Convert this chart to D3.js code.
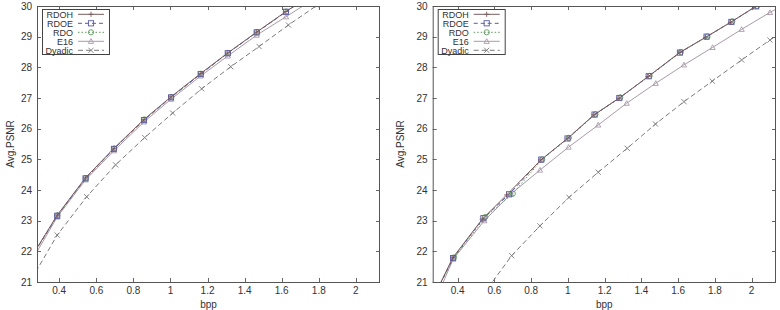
<!DOCTYPE html>
<html>
<head>
<meta charset="utf-8">
<script src="https://cdn.jsdelivr.net/npm/d3@7"></script>
<style>
  html, body { margin: 0; padding: 0; background: #fff; }
  svg { display: block; font-family: "Liberation Sans", Arial, sans-serif; }
</style>
</head>
<body>
<div id="chart"></div>
<script>
// series names and tick values
var seriesNames = ["RDOH", "RDOE", "RDO", "E16", "Dyadic"];
var xTicks = [0.4, 0.6, 0.8, 1, 1.2, 1.4, 1.6, 1.8, 2];
var yTicks = [21, 22, 23, 24, 25, 26, 27, 28, 29, 30];

// left panel, [bpp, psnr]
var leftRDOH = [[0.23,21.62],[0.389,23.18],[0.542,24.40],[0.695,25.36],[0.857,26.30],[1.003,27.04],[1.163,27.80],[1.309,28.47],[1.465,29.15],[1.623,29.82],[1.78,30.45]];
var leftRDOE = [[0.23,21.60],[0.389,23.16],[0.542,24.38],[0.695,25.34],[0.857,26.28],[1.003,27.02],[1.163,27.78],[1.309,28.46],[1.465,29.14],[1.623,29.81],[1.78,30.44]];
var leftRDO = [[0.23,21.61],[0.390,23.17],[0.543,24.39],[0.697,25.35],[0.858,26.30],[1.004,27.03],[1.164,27.79],[1.31,28.47],[1.466,29.15],[1.624,29.82],[1.78,30.44]];
var leftE16 = [[0.23,21.47],[0.389,23.12],[0.542,24.33],[0.695,25.28],[0.857,26.22],[1.003,26.96],[1.163,27.72],[1.309,28.37],[1.465,29.05],[1.623,29.65],[1.78,30.25]];
var leftDyadic = [[0.23,20.88],[0.389,22.53],[0.548,23.78],[0.704,24.82],[0.861,25.71],[1.012,26.51],[1.168,27.30],[1.325,28.02],[1.478,28.68],[1.636,29.38],[1.79,30.02],[1.95,30.6]];

// right panel
var rightRDOH = [[0.22,19.9],[0.373,21.79],[0.534,23.05],[0.667,23.84],[0.853,24.98],[1.0,25.69],[1.142,26.45],[1.278,26.99],[1.437,27.70],[1.61,28.49],[1.75,28.98],[1.886,29.47],[2.02,29.98],[2.16,30.45]];
var rightRDOE = [[0.22,19.9],[0.375,21.78],[0.54,23.08],[0.68,23.86],[0.855,24.99],[0.998,25.68],[1.145,26.46],[1.28,27.0],[1.44,27.71],[1.61,28.48],[1.755,29.0],[1.89,29.48],[2.025,29.99],[2.16,30.45]];
var rightRDO = [[0.22,19.95],[0.38,21.80],[0.55,23.12],[0.70,23.88],[0.86,25.0],[1.005,25.70],[1.15,26.47],[1.285,27.02],[1.445,27.72],[1.615,28.50],[1.76,29.01],[1.895,29.5],[2.03,30.0],[2.17,30.46]];
var rightE16 = [[0.22,19.6],[0.376,21.75],[0.545,23.0],[0.69,23.87],[0.848,24.65],[1.004,25.40],[1.165,26.12],[1.32,26.83],[1.478,27.48],[1.632,28.08],[1.788,28.65],[1.946,29.24],[2.10,29.79],[2.26,30.3]];
var rightDyadic = [[0.54,20.6],[0.694,21.86],[0.848,22.83],[1.006,23.76],[1.165,24.58],[1.323,25.36],[1.477,26.15],[1.632,26.88],[1.786,27.55],[1.946,28.24],[2.10,28.89],[2.26,29.5]];

var styles = {
  RDOH:   { color: "#7a5a5e", dash: null,  marker: "plus" },
  RDOE:   { color: "#5a5aa8", dash: "4,3", marker: "square" },
  RDO:    { color: "#5e9a5e", dash: "1.5,2", marker: "circle" },
  E16:    { color: "#a89aa8", dash: null,  marker: "triangle" },
  Dyadic: { color: "#7a7a7a", dash: "5,3", marker: "cross" }
};

var svg = d3.select("#chart").append("svg").attr("width", 780).attr("height", 310);

var panels = [
  { left: 37, right: 380, xDomain: [0.28, 2.13], data: [leftRDOH, leftRDOE, leftRDO, leftE16, leftDyadic], ylabX: 10, legX: 42 },
  { left: 432.7, right: 776, xDomain: [0.264, 2.133], data: [rightRDOH, rightRDOE, rightRDO, rightE16, rightDyadic], ylabX: 400, legX: 437.7 }
];
var plotTop = 6, plotBottom = 282;

function drawMarker(g, type, x, y, color) {
  var s = 2.6;
  if (type === "plus") {
    g.append("path").attr("d", "M" + (x - s) + "," + y + "H" + (x + s) + "M" + x + "," + (y - s) + "V" + (y + s))
      .attr("stroke", color).attr("fill", "none");
  } else if (type === "square") {
    g.append("rect").attr("x", x - s).attr("y", y - s).attr("width", 2 * s).attr("height", 2 * s)
      .attr("stroke", color).attr("fill", "none");
  } else if (type === "circle") {
    g.append("circle").attr("cx", x).attr("cy", y).attr("r", s).attr("stroke", color).attr("fill", "none");
  } else if (type === "triangle") {
    g.append("path").attr("d", "M" + x + "," + (y - s) + "L" + (x + s) + "," + (y + s * 0.8) + "L" + (x - s) + "," + (y + s * 0.8) + "Z")
      .attr("stroke", color).attr("fill", "none");
  } else {
    g.append("path").attr("d", "M" + (x - s) + "," + (y - s) + "L" + (x + s) + "," + (y + s) + "M" + (x - s) + "," + (y + s) + "L" + (x + s) + "," + (y - s))
      .attr("stroke", color).attr("fill", "none");
  }
}

panels.forEach(function (p, pi) {
  var x = d3.scaleLinear().domain(p.xDomain).range([p.left, p.right]);
  var y = d3.scaleLinear().domain([21, 30]).range([plotBottom, plotTop]);
  var g = svg.append("g");

  var clipId = "clip" + pi;
  svg.append("clipPath").attr("id", clipId).append("rect")
    .attr("x", p.left).attr("y", plotTop).attr("width", p.right - p.left).attr("height", plotBottom - plotTop);

  // ticks (inward, mirrored)
  var tk = g.append("g").attr("stroke", "#666").attr("stroke-width", 1);
  xTicks.forEach(function (t) {
    var xx = Math.round(x(t)) + 0.5;
    tk.append("line").attr("x1", xx).attr("x2", xx).attr("y1", plotBottom).attr("y2", plotBottom - 4);
    tk.append("line").attr("x1", xx).attr("x2", xx).attr("y1", plotTop).attr("y2", plotTop + 4);
  });
  yTicks.forEach(function (t) {
    var yy = Math.round(y(t)) + 0.5;
    tk.append("line").attr("x1", p.left).attr("x2", p.left + 4).attr("y1", yy).attr("y2", yy);
    tk.append("line").attr("x1", p.right).attr("x2", p.right - 4).attr("y1", yy).attr("y2", yy);
  });

  var lab = g.append("g").attr("font-size", 10).attr("fill", "#333");
  xTicks.forEach(function (t) {
    lab.append("text").attr("x", x(t)).attr("y", 294).attr("text-anchor", "middle").text(t);
  });
  yTicks.forEach(function (t) {
    lab.append("text").attr("x", p.left - 5).attr("y", y(t) + 3.5).attr("text-anchor", "end").text(t);
  });
  lab.append("text").attr("x", (p.left + p.right) / 2).attr("y", 308).attr("text-anchor", "middle").text("bpp");
  lab.append("text").attr("transform", "translate(" + (p.ylabX + 3.5) + "," + ((plotTop + plotBottom) / 2) + ") rotate(-90)")
    .attr("text-anchor", "middle").text("Avg.PSNR");

  // series
  var plot = g.append("g").attr("clip-path", "url(#" + clipId + ")");
  var line = d3.line().x(function (d) { return x(d[0]); }).y(function (d) { return y(d[1]); });
  // draw back to front
  [4, 3, 2, 1, 0].forEach(function (si) {
    var st = styles[seriesNames[si]];
    plot.append("path").datum(p.data[si]).attr("d", line)
      .attr("fill", "none").attr("stroke", st.color).attr("stroke-width", 1)
      .attr("stroke-dasharray", st.dash);
    var mg = plot.append("g").attr("stroke-width", 0.9);
    p.data[si].forEach(function (d) {
      drawMarker(mg, st.marker, x(d[0]), y(d[1]), st.color);
    });
  });

  // frame
  g.append("rect").attr("x", p.left + 0.5).attr("y", plotTop + 0.5)
    .attr("width", p.right - p.left - 1).attr("height", plotBottom - plotTop)
    .attr("fill", "none").attr("stroke", "#555");

  // legend
  var lg = g.append("g");
  lg.append("rect").attr("x", p.legX + 0.5).attr("y", 9.5).attr("width", 67).attr("height", 45)
    .attr("fill", "#fff").attr("stroke", "#444");
  seriesNames.forEach(function (n, i) {
    var st = styles[n];
    var ry = 14.3 + i * 9;
    lg.append("text").attr("x", p.legX + 31).attr("y", ry + 3.2).attr("text-anchor", "end")
      .attr("font-size", 9).attr("fill", "#333").text(n);
    lg.append("line").attr("x1", p.legX + 36).attr("x2", p.legX + 62).attr("y1", ry).attr("y2", ry)
      .attr("stroke", st.color).attr("stroke-dasharray", st.dash);
    drawMarker(lg.append("g").attr("stroke-width", 0.9), st.marker, p.legX + 49, ry, st.color);
  });
});
</script>
</body>
</html>
